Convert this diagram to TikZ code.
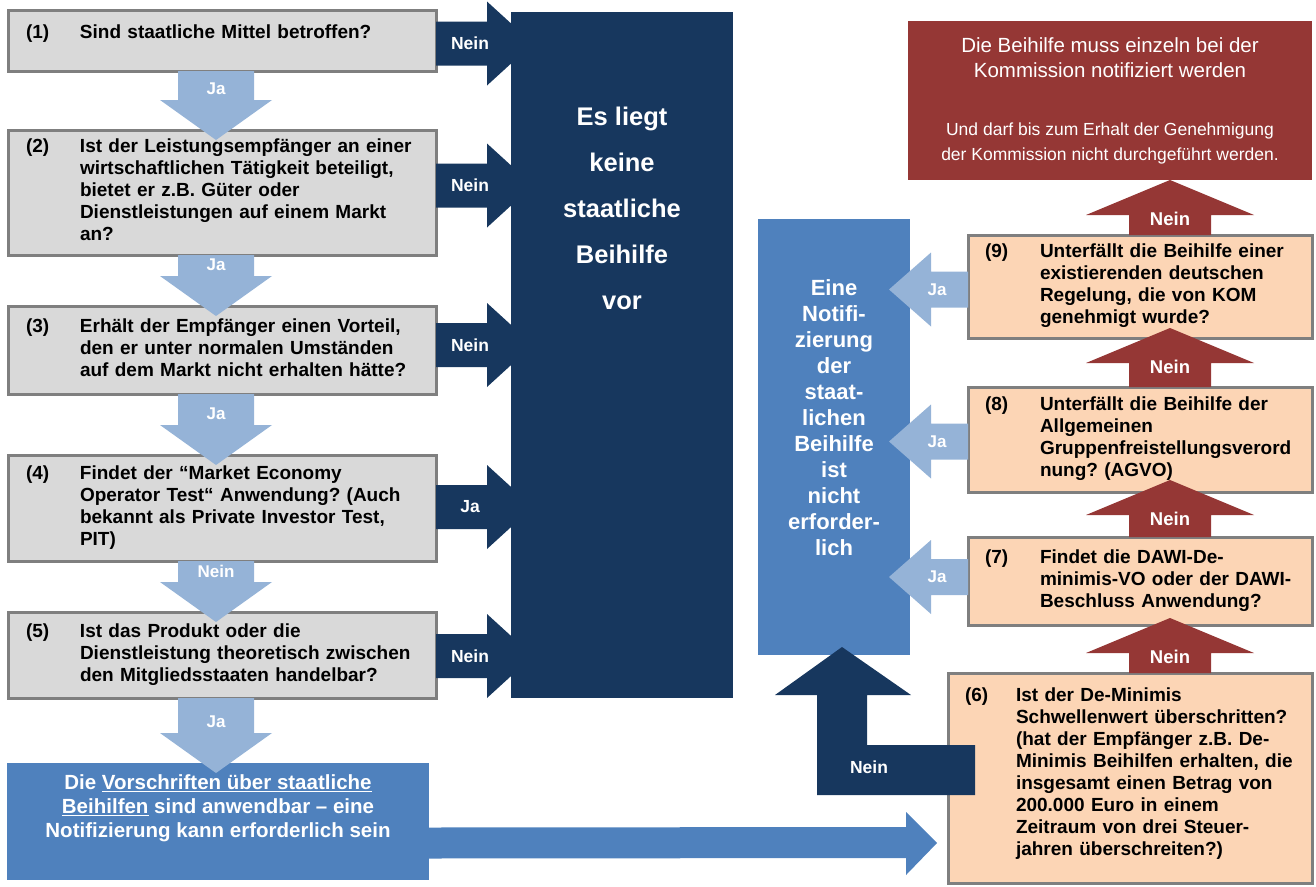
\documentclass[tikz,border=0pt]{standalone}
\usepackage{fontspec}
\setmainfont{Liberation Sans}
\usetikzlibrary{positioning}
\usetikzlibrary{calc}
\frenchspacing

\definecolor{qgray}{HTML}{D9D9D9}
\definecolor{qline}{HTML}{7F7F7F}
\definecolor{peach}{HTML}{FCD5B5}
\definecolor{deepnavy}{HTML}{17375E}
\definecolor{paleblue}{HTML}{95B3D7}
\definecolor{midblue}{HTML}{4F81BD}
\definecolor{darkred}{HTML}{953735}

\newcommand{\qfont}{\fontsize{19}{22}\selectfont\bfseries}
\newcommand{\tagfont}{\fontsize{17}{20}\selectfont\bfseries}
\newcommand{\bigfont}{\fontsize{25.5}{46}\selectfont\bfseries}
\newcommand{\notfont}{\fontsize{22}{26}\selectfont\bfseries}
\newcommand{\appfont}{\fontsize{20.5}{24}\selectfont\bfseries}
\newcommand{\redbig}{\fontsize{20.5}{25}\selectfont}
\newcommand{\redsmall}{\fontsize{17.5}{22}\selectfont}
% number column plus question lines
\newcommand{\qnum}[3][54pt]{\begin{tabular}{@{}p{#1}@{}l@{}}#2 & #3\end{tabular}}
% push text upwards inside its box
\newcommand{\lift}[2]{\raisebox{0pt}[\height][\dimexpr\depth+#1\relax]{#2}}

\begin{document}
\begin{tikzpicture}[x=1pt, y=-1pt,
  qbox/.style={draw=qline, line width=3pt, fill=qgray, anchor=north west, outer sep=0pt,
    inner xsep=18pt, inner ysep=0pt, align=left, font=\qfont},
  pbox/.style={qbox, fill=peach, inner xsep=17pt},
  fillbox/.style={anchor=north west, outer sep=0pt, inner sep=0pt, text=white},
  tag/.style={text=white, font=\tagfont, inner sep=0pt}]
  \useasboundingbox (0,0) rectangle (1316,886);

  % The questions on the left
  \node[qbox, minimum width=428pt, minimum height=61pt, text width=392pt] (q1) at (8,10)
    {\lift{12pt}{\qnum{(1)}{Sind staatliche Mittel betroffen?}}};
  \node[qbox, minimum width=428pt, minimum height=125pt, text width=392pt] (q2) at (8,130)
    {\qnum{(2)}{Ist der Leistungsempfänger an einer\\ & wirtschaftlichen Tätigkeit beteiligt,\\
      & bietet er z.B. Güter oder\\ & Dienstleistungen auf einem Markt\\ & an?}};
  \node[qbox, minimum width=428pt, minimum height=88pt, text width=392pt] (q3) at (8,306)
    {\qnum{(3)}{Erhält der Empfänger einen Vorteil,\\ & den er unter normalen Umständen\\
      & auf dem Markt nicht erhalten hätte?}};
  \node[qbox, minimum width=428pt, minimum height=106pt, text width=392pt] (q4) at (8,455)
    {\qnum{(4)}{Findet der “Market Economy\\ & Operator Test“ Anwendung? (Auch\\
      & bekannt als Private Investor Test,\\ & PIT)}};
  \node[qbox, minimum width=428pt, minimum height=86pt, text width=392pt] (q5) at (8,612)
    {\qnum{(5)}{Ist das Produkt oder die\\ & Dienstleistung theoretisch zwischen\\
      & den Mitgliedsstaaten handelbar?}};

  % The result boxes
  \node[fillbox, fill=deepnavy, minimum width=222pt, minimum height=686pt, font=\bigfont] (keine) at (511,12)
    {\lift{294pt}{\begin{tabular}{@{}c@{}}Es liegt\\keine\\staatliche\\Beihilfe\\vor\end{tabular}}};
  \node[fillbox, fill=midblue, minimum width=422pt, minimum height=117pt, font=\appfont] (applies) at (7,763)
    {\lift{26pt}{\begin{tabular}{@{}c@{}}Die \underline{Vorschriften über staatliche}\\
      \underline{Beihilfen} sind anwendbar – eine\\Notifizierung kann erforderlich sein\end{tabular}}};
  \node[fillbox, fill=midblue, minimum width=152pt, minimum height=436pt, font=\notfont] (notif) at (758,219)
    {\lift{34pt}{\begin{tabular}{@{}c@{}}Eine\\Notifi-\\zierung\\der\\staat-\\lichen\\Beihilfe\\ist\\nicht\\erforder-\\lich\end{tabular}}};
  \node[fillbox, fill=darkred, minimum width=404pt, minimum height=159pt, font=\redbig, align=center] (notify) at (908,21)
    {Die Beihilfe muss einzeln bei der\\Kommission notifiziert werden\\[33pt]
     {\redsmall Und darf bis zum Erhalt der Genehmigung}\\{\redsmall der Kommission nicht durchgeführt werden.}};

  % The questions on the right
  \node[pbox, minimum width=344pt, minimum height=103pt, text width=310pt] (q9) at (968,235)
    {\qnum[55pt]{(9)}{Unterfällt die Beihilfe einer\\ & existierenden deutschen\\
      & Regelung, die von KOM\\ & genehmigt wurde?}};
  \node[pbox, minimum width=344pt, minimum height=105pt, text width=310pt] (q8) at (968,387)
    {\qnum[55pt]{(8)}{Unterfällt die Beihilfe der\\ & Allgemeinen\\
      & Gruppenfreistellungsverord\\ & nung? (AGVO)}};
  \node[pbox, minimum width=344pt, minimum height=88pt, text width=310pt] (q7) at (968,537)
    {\qnum[55pt]{(7)}{Findet die DAWI-De-\\ & minimis-VO oder der DAWI-\\
      & Beschluss Anwendung?}};
  \node[pbox, minimum width=364pt, minimum height=210pt, text width=330pt] (q6) at (948,673)
    {\lift{8pt}{\qnum[51pt]{(6)}{Ist der De-Minimis\\ & Schwellenwert überschritten?\\
      & (hat der Empfänger z.B. De-\\ & Minimis Beihilfen erhalten, die\\
      & insgesamt einen Betrag von\\ & 200.000 Euro in einem\\
      & Zeitraum von drei Steuer-\\ & jahren überschreiten?)}}};

  % Down arrows of the left column
  \foreach \a/\b/\lab in {q1/q2/Ja, q2/q3/Ja, q3/q4/Ja, q4/q5/Nein, q5/applies/Ja} {
    \fill[paleblue] ($(\a.south)+(-44,0)$) -- ($(\a.south |- \b.north)+(-44,-30)$) -- ++(-18,0)
      -- ($(\a.south |- \b.north)+(-6,10)$) -- ($(\a.south |- \b.north)+(50,-30)$) -- ++(-18,0)
      -- ($(\a.south)+(32,0)$) -- cycle;
    \node[tag] (tag-\a) at ($(\a.south |- \b.north)+(-6,-41)$) {\lab};
  }

  % Arrows into the dark box
  \foreach \a/\dy/\lab in {q1/3/Nein, q2/-7/Nein, q3/-5/Nein, q4/-1/Ja, q5/1/Nein} {
    \fill[deepnavy] ($(\a.east)+(0,\dy-22)$) -- ($(\a.east -| keine.west)+(-24,\dy-22)$) -- ++(0,-20)
      -- ($(\a.east -| keine.west)+(22,\dy)$) -- ($(\a.east -| keine.west)+(-24,\dy+42)$) -- ++(0,-20)
      -- ($(\a.east)+(0,\dy+22)$) -- cycle;
    \node[tag, font=\fontsize{17.5}{20}\selectfont\bfseries] (no-\a) at ($(\a.east)+(34,\dy)$) {\lab};
  }

  % Up arrows of the right column
  \coordinate (redaxis) at (1170,0);
  \foreach \a/\b/\dt in {q6/q7/-7, q7/q8/-12, q8/q9/-10, q9/notify/0} {
    \fill[darkred] ($(\a.north -| redaxis)+(-41,0)$) -- ($(\b.south -| redaxis)+(-41,\dt+35)$) -- ++(-43,0)
      -- ($(\b.south -| redaxis)+(0,\dt)$) -- ($(\b.south -| redaxis)+(84,\dt+35)$) -- ++(-43,0)
      -- ($(\a.north -| redaxis)+(41,0)$) -- cycle;
    \node[tag, font=\fontsize{18.5}{20}\selectfont\bfseries] (up-\a) at ($(\b.south -| redaxis)+(0,\dt+39)$) {Nein};
  }

  % Ja arrows to the left
  \foreach \a/\dy in {q9/3, q8/2, q7/-4} {
    \fill[paleblue] ($(\a.west)+(0,\dy-18)$) -- ($(\a.west -| notif.east)+(21,\dy-18)$) -- ++(0,-19)
      -- ($(\a.west -| notif.east)+(-21,\dy)$) -- ($(\a.west -| notif.east)+(21,\dy+37)$) -- ++(0,-19)
      -- ($(\a.west)+(0,\dy+18)$) -- cycle;
    \node[tag] (ja-\a) at ($(\a.west)+(-31,\dy)$) {Ja};
  }

  % The bent arrow from (6)
  \fill[deepnavy] ($(q6.west)+(27,-33)$) -- ($(notif.south)+(33,90)$) -- ($(notif.south)+(33,40)$)
    -- ($(notif.south)+(77,40)$) -- ($(notif.south)+(8,-8)$) -- ($(notif.south)+(-59,40)$)
    -- ($(notif.south)+(-17,40)$) -- ($(notif.south)+(-17,140)$) -- ($(q6.west)+(27,17)$) -- cycle;
  \node[tag, font=\fontsize{17.5}{20}\selectfont\bfseries] (no-q6) at ($(notif.south)+(35,112)$) {Nein};

  % The long arrow along the bottom
  \fill[midblue] ($(applies.east)+(0,6)$) -- ($(q6.west)+(-42,49)$) -- ($(q6.west)+(-42,34)$)
    -- ($(q6.west)+(-11,65)$) -- ($(q6.west)+(-42,97)$) -- ($(q6.west)+(-42,80)$)
    -- ($(applies.east)+(0,37)$) -- cycle;
\end{tikzpicture}
\end{document}
